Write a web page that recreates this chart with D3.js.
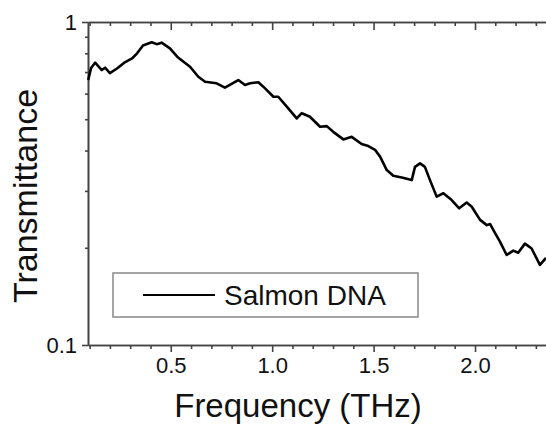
<!DOCTYPE html>
<html>
<head>
<meta charset="utf-8">
<script src="https://cdn.jsdelivr.net/npm/d3@7"></script>
<style>
  html, body { margin: 0; padding: 0; background: #fff; }
  svg text { font-family: "Liberation Sans", Arial, sans-serif; fill: #111; }
</style>
</head>
<body>
<div id="chart"></div>
<script>
// frequency in THz
const freq = [0.093, 0.107, 0.127, 0.160, 0.176, 0.200, 0.235, 0.269, 0.309, 0.334,
  0.363, 0.406, 0.431, 0.455, 0.496, 0.536, 0.595, 0.636, 0.669, 0.726,
  0.767, 0.800, 0.833, 0.866, 0.891, 0.932, 0.965, 1.006, 1.030, 1.072,
  1.121, 1.146, 1.186, 1.236, 1.269, 1.301, 1.351, 1.392, 1.441, 1.474,
  1.507, 1.532, 1.565, 1.597, 1.639, 1.688, 1.704, 1.729, 1.753, 1.778,
  1.811, 1.844, 1.885, 1.922, 1.959, 1.984, 2.025, 2.058, 2.074, 2.099,
  2.123, 2.156, 2.189, 2.213, 2.246, 2.279, 2.320, 2.350];
// transmittance
const trans = [0.661, 0.720, 0.748, 0.710, 0.722, 0.695, 0.718, 0.747, 0.771, 0.800,
  0.846, 0.866, 0.854, 0.863, 0.829, 0.776, 0.727, 0.677, 0.653, 0.646,
  0.626, 0.643, 0.661, 0.638, 0.646, 0.651, 0.623, 0.587, 0.587, 0.547,
  0.503, 0.522, 0.509, 0.474, 0.476, 0.457, 0.433, 0.441, 0.419, 0.413,
  0.402, 0.383, 0.348, 0.334, 0.330, 0.324, 0.356, 0.365, 0.356, 0.324,
  0.288, 0.295, 0.281, 0.265, 0.276, 0.268, 0.244, 0.235, 0.237, 0.222,
  0.209, 0.190, 0.196, 0.193, 0.206, 0.199, 0.177, 0.186];

const xMajor = [0.5, 1.0, 1.5, 2.0];
const xMinor = [0.1, 0.2, 0.3, 0.4, 0.6, 0.7, 0.8, 0.9, 1.1, 1.2, 1.3, 1.4,
  1.6, 1.7, 1.8, 1.9, 2.1, 2.2, 2.3];
const yMajor = [0.1, 1];
const yMinor = [0.2, 0.3, 0.4, 0.5, 0.6, 0.7, 0.8, 0.9];
const seriesName = "Salmon DNA";

const width = 546, height = 425;
const marginLeft = 88, plotTop = 22, plotBottom = 345;

const svg = d3.select("#chart").append("svg")
  .attr("width", width)
  .attr("height", height);

const x = d3.scaleLinear().domain([0.092, 2.35]).range([marginLeft, width]);
const y = d3.scaleLog().domain([0.1, 1]).range([plotBottom, plotTop]);

const axisColor = "#444";

function styleAxis(g) {
  g.selectAll("path.domain").attr("stroke", axisColor).attr("stroke-width", 1.6);
  g.selectAll(".tick line").attr("stroke", axisColor).attr("stroke-width", 1.6);
  g.selectAll("text").attr("fill", "#111");
}

// top axis: ticks point down into the plot, no labels
svg.append("g")
  .attr("transform", "translate(0," + plotTop + ")")
  .call(d3.axisBottom(x).tickValues(xMinor).tickSize(4).tickSizeOuter(0).tickFormat(""))
  .call(styleAxis);
svg.append("g")
  .attr("transform", "translate(0," + plotTop + ")")
  .call(d3.axisBottom(x).tickValues(xMajor).tickSize(8).tickSizeOuter(0).tickFormat(""))
  .call(styleAxis);

// bottom axis
svg.append("g")
  .attr("transform", "translate(0," + plotBottom + ")")
  .call(d3.axisBottom(x).tickValues(xMinor).tickSize(4).tickSizeOuter(0).tickFormat(""))
  .call(styleAxis);
const xAxis = svg.append("g")
  .attr("transform", "translate(0," + plotBottom + ")")
  .call(d3.axisBottom(x).tickValues(xMajor).tickSize(7).tickSizeOuter(0).tickFormat(d3.format(".1f")))
  .call(styleAxis);
xAxis.selectAll("text")
  .attr("y", 12)
  .attr("dy", "0.71em")
  .style("font-size", "22px");

// left axis, log scale
svg.append("g")
  .attr("transform", "translate(" + marginLeft + ",0)")
  .call(d3.axisLeft(y).tickValues(yMinor).tickSize(3).tickSizeOuter(0).tickFormat(""))
  .call(styleAxis);
const yAxis = svg.append("g")
  .attr("transform", "translate(" + marginLeft + ",0)")
  .call(d3.axisLeft(y).tickValues(yMajor).tickSize(6).tickSizeOuter(0).tickFormat(d => d === 1 ? "1" : "0.1"))
  .call(styleAxis);
yAxis.selectAll("text")
  .attr("x", -11)
  .style("font-size", "22px");

// the curve
const line = d3.line()
  .x((d, i) => x(freq[i]))
  .y((d, i) => y(trans[i]));

svg.append("path")
  .datum(trans)
  .attr("fill", "none")
  .attr("stroke", "#000")
  .attr("stroke-width", 2.6)
  .attr("stroke-linejoin", "round")
  .attr("d", line);

// legend
const legend = svg.append("g");
legend.append("rect")
  .attr("x", 113).attr("y", 273)
  .attr("width", 305).attr("height", 44)
  .attr("fill", "#fff")
  .attr("stroke", "#888")
  .attr("stroke-width", 1.5);
legend.append("line")
  .attr("x1", 143).attr("x2", 215)
  .attr("y1", 295).attr("y2", 295)
  .attr("stroke", "#000")
  .attr("stroke-width", 2);
legend.append("text")
  .attr("x", 224).attr("y", 305)
  .style("font-size", "28px")
  .text(seriesName);

// axis titles
svg.append("text")
  .attr("x", (marginLeft + 508) / 2)
  .attr("y", 417)
  .attr("text-anchor", "middle")
  .style("font-size", "33px")
  .text("Frequency (THz)");

svg.append("text")
  .attr("transform", "translate(37," + 196 + ") rotate(-90)")
  .attr("text-anchor", "middle")
  .style("font-size", "34px")
  .text("Transmittance");
</script>
</body>
</html>
